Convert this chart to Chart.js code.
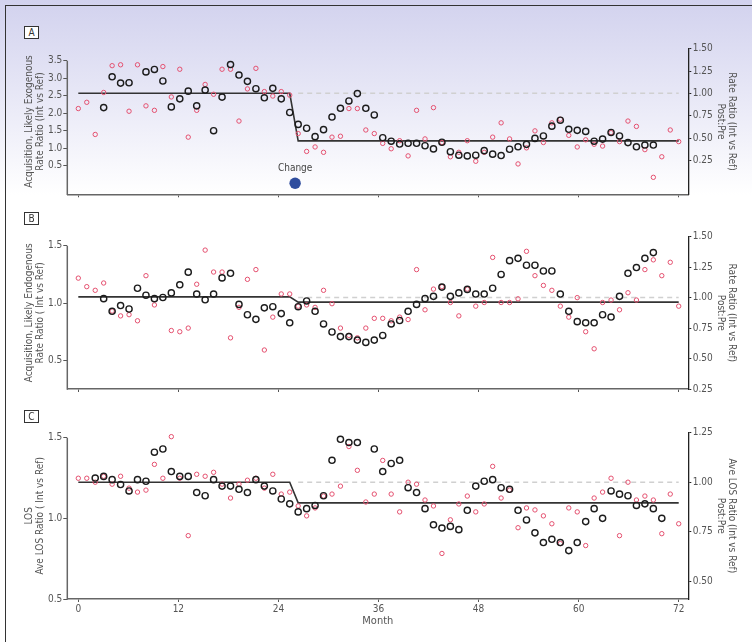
<!DOCTYPE html>
<html>
<head>
<meta charset="utf-8">
<title>Rate ratios before and after the change</title>
<script src="https://cdn.jsdelivr.net/npm/chart.js@4.4.1/dist/chart.umd.min.js"></script>
<style>
  html, body { margin: 0; padding: 0; }
  body {
    width: 752px; height: 642px; overflow: hidden; position: relative;
    background: linear-gradient(to bottom, #d2d2ee 0px, #e4e4f5 80px, #ffffff 195px);
    font-family: 'Liberation Sans Narrow', 'DejaVu Sans Condensed', sans-serif;
  }
  #frame {
    position: absolute; left: 5px; top: 5px; right: -10px; bottom: -10px;
    border-top: 1.5px solid #333; border-left: 1.5px solid #333;
  }
  canvas { position: absolute; left: 0; }
  .tag {
    position: absolute; left: 24px; width: 13px; height: 11px;
    border: 1px solid #333; background: #fff; color: #333;
    font-size: 10px; line-height: 11px; text-align: center;
  }
</style>
</head>
<body>
<div id="frame"></div>
<canvas id="chart-a" width="752" height="205" style="top:0"></canvas>
<canvas id="chart-b" width="752" height="195" style="top:205px"></canvas>
<canvas id="chart-c" width="752" height="242" style="top:400px"></canvas>
<div class="tag" style="top:26px">A</div>
<div class="tag" style="top:212px">B</div>
<div class="tag" style="top:410px">C</div>

<script>
// Monthly ratios, intervention vs reference
// =============================================================

const monthTicks = [0, 12, 24, 36, 48, 60, 72]
const postStart = 26            // first monthly point after the change
const changeMark = { month: 26, value: 0 }

// A - acquisition, likely exogenous
const aRatio = [null, null, null, 2.16, 3.04, 2.86, 2.87, 4.05, 3.18, 3.25, 2.92, 2.18, 2.41, 2.63, 2.21, 2.66, 1.50, 2.46,
  3.39, 3.09, 2.91, 2.70, 2.44, 2.71, 2.41, 2.02, 1.68, 1.57, 1.33, 1.53, 1.89, 2.14, 2.35, 2.56, 2.14, 1.95,
  1.30, 1.20, 1.12, 1.14, 1.14, 1.07, 0.98, 1.17, 0.90, 0.80, 0.78, 0.80, 0.93, 0.83, 0.79, 0.97, 1.04, 1.11,
  1.28, 1.35, 1.63, 1.80, 1.54, 1.51, 1.48, 1.20, 1.26, 1.45, 1.35, 1.16, 1.04, 1.09, 1.09, null, null, null]
const aPostPre = [0.83, 0.90, 0.54, 1.01, 1.31, 1.32, 0.80, 1.32, 0.86, 0.81, 1.30, 0.96, 1.27, 0.51, 0.81, 1.10, 0.99, 1.27,
  1.27, 0.69, 1.05, 1.28, 1.02, 0.97, 1.02, 0.98, 0.55, 0.35, 0.40, 0.34, 0.51, 0.52, 0.83, 0.83, 0.59, 0.55,
  0.44, 0.38, 0.47, 0.30, 0.81, 0.49, 0.84, 0.45, 0.29, 0.34, 0.47, 0.24, 0.34, 0.51, 0.67, 0.49, 0.21, 0.39,
  0.58, 0.45, 0.67, 0.71, 0.53, 0.40, 0.48, 0.43, 0.41, 0.56, 0.46, 0.69, 0.63, 0.37, 0.06, 0.29, 0.59, 0.46]
const aLevels = [2.57, 1.21]
const aLeftTicks = [0.5, 1.0, 1.5, 2.0, 2.5, 3.0, 3.5]
const aRightTicks = [0.25, 0.50, 0.75, 1.00, 1.25, 1.50]

// B - acquisition, likely endogenous
const bRatio = [null, null, null, 1.04, 0.93, 0.98, 0.95, 1.13, 1.07, 1.04, 1.05, 1.09, 1.16, 1.27, 1.08, 1.03, 1.08, 1.22,
  1.26, 0.99, 0.90, 0.86, 0.96, 0.97, 0.91, 0.83, 0.97, 1.02, 0.93, 0.82, 0.75, 0.71, 0.71, 0.68, 0.66, 0.68,
  0.72, 0.82, 0.85, 0.93, 0.99, 1.04, 1.06, 1.14, 1.06, 1.09, 1.12, 1.08, 1.08, 1.13, 1.25, 1.37, 1.39, 1.33,
  1.33, 1.28, 1.28, 1.08, 0.93, 0.84, 0.83, 0.83, 0.90, 0.88, 1.06, 1.26, 1.31, 1.39, 1.44, null, null, null]
const bPostPre = [1.16, 1.09, 1.06, 1.12, 0.89, 0.85, 0.86, 0.81, 1.18, 0.94, null, 0.73, 0.72, 0.75, 1.11, 1.39, 1.21, 1.21,
  0.67, 0.92, 1.15, 1.23, 0.57, 0.84, 1.03, 1.03, 0.93, 0.94, 0.92, 1.06, 0.95, 0.75, 0.69, 0.67, 0.75, 0.83,
  0.83, 0.81, 0.84, 0.82, 1.23, 0.90, 1.07, 1.09, 0.96, 0.85, 1.07, 0.93, 0.96, 1.33, 0.96, 0.96, 0.99, 1.38,
  1.18, 1.10, 1.06, 0.93, 0.84, 1.00, 0.72, 0.58, 0.96, 0.98, 0.90, 1.04, 0.98, 1.23, 1.31, 1.18, 1.29, 0.93]
const bLevels = [1.055, 1.01]
const bLeftTicks = [0.5, 1.0, 1.5]
const bRightTicks = [0.25, 0.50, 0.75, 1.00, 1.25, 1.50]

// C - length of stay
const cRatio = [null, null, 1.25, 1.26, 1.24, 1.21, 1.17, 1.24, 1.23, 1.41, 1.43, 1.29, 1.26, 1.26, 1.16, 1.14, 1.24, 1.20,
  1.20, 1.18, 1.16, 1.24, 1.20, 1.17, 1.12, 1.09, 1.04, 1.06, 1.08, 1.14, 1.36, 1.49, 1.47, 1.47, 1.60, 1.43,
  1.29, 1.34, 1.36, 1.19, 1.16, 1.06, 0.96, 0.94, 0.95, 0.93, 1.05, 1.20, 1.23, 1.24, 1.19, 1.18, 1.05, 0.99,
  0.91, 0.85, 0.87, 0.85, 0.80, 0.85, 0.98, 1.06, 1.00, 1.17, 1.15, 1.14, 1.08, 1.09, 1.06, 1.00, null, null]
const cPostPre = [1.02, 1.02, 1.00, 1.03, 0.99, 1.03, 0.97, 0.95, 0.96, 1.09, 1.02, 1.23, 1.02, 0.73, 1.04, 1.03, 1.05, 0.99,
  0.92, 0.99, 1.01, 1.02, 0.97, 1.04, 0.94, 0.95, 0.88, 0.83, 0.87, 0.93, 0.94, 0.98, 1.18, 1.06, 0.90, 0.94,
  1.11, 0.94, 0.85, 1.00, 0.99, 0.91, 0.88, 0.64, 0.81, 0.89, 0.93, 0.85, 0.89, 1.08, 0.92, 0.96, 0.77, 0.87,
  0.86, 0.83, 0.79, 0.69, 0.87, 0.85, 0.68, 0.92, 0.95, 1.02, 0.73, 1.00, 0.91, 0.93, 0.91, 0.74, 0.94, 0.79]
const cLevels = [1.224, 1.096]
const cLeftTicks = [0.5, 1.0, 1.5]
const cRightTicks = [0.50, 0.75, 1.00, 1.25]

const FONT = "'Liberation Sans Narrow', 'DejaVu Sans Condensed', sans-serif"
const GREY = '#555'

Chart.defaults.font.family = FONT
Chart.defaults.font.size = 10
Chart.defaults.color = GREY

// the 72 monthly points are spread over the whole 0-72 axis
const monthPos = i => i * 72 / 71
const toPoints = arr => arr.map((v, i) => ({ x: monthPos(i), y: v }))

// left axis only runs from its top tick down
const leftAxisLine = {
  id: 'leftAxisLine',
  afterDraw (chart, args, opts) {
    const { ctx, chartArea, scales: { y } } = chart
    const top = y.getPixelForValue(opts.from)
    ctx.save()
    ctx.strokeStyle = '#666'
    ctx.lineWidth = 1.5
    ctx.beginPath()
    ctx.moveTo(chartArea.left, top)
    ctx.lineTo(chartArea.left, chartArea.bottom + 0.75)
    ctx.stroke()
    ctx.restore()
  }
}

const changeLabel = {
  id: 'changeLabel',
  afterDatasetsDraw (chart) {
    const { ctx, scales: { x, y } } = chart
    ctx.save()
    ctx.font = '10px ' + FONT
    ctx.fillStyle = '#444'
    ctx.textAlign = 'center'
    ctx.textBaseline = 'middle'
    ctx.fillText('Change', x.getPixelForValue(changeMark.month), y.getPixelForValue(changeMark.value) - 15)
    ctx.restore()
  }
}

function panel (id, cfg) {
  const [pre, post] = cfg.levels
  const last = cfg.ratio.length - 1
  const step = [
    { x: monthPos(0), y: pre }, { x: monthPos(postStart - 1), y: pre },
    { x: monthPos(postStart), y: post }, { x: monthPos(last), y: post }
  ]
  const baseline = [{ x: monthPos(postStart), y: 1 }, { x: monthPos(last), y: 1 }]

  const datasets = [{
    data: toPoints(cfg.ratio),
    yAxisID: 'y',
    pointRadius: 3.1,
    pointBorderWidth: 1.4,
    pointBorderColor: '#1c1c1c',
    pointBackgroundColor: 'rgba(0,0,0,0)',
    clip: false
  }, {
    data: toPoints(cfg.postPre),
    yAxisID: 'y1',
    pointRadius: 2.2,
    pointBorderWidth: 1,
    pointBorderColor: '#e4506f',
    pointBackgroundColor: 'rgba(0,0,0,0)',
    clip: false
  }, {
    data: step,
    yAxisID: 'y',
    showLine: true,
    pointRadius: 0,
    borderColor: '#333',
    borderWidth: 1.6
  }, {
    data: baseline,
    yAxisID: 'y1',
    showLine: true,
    pointRadius: 0,
    borderColor: '#d0d0d0',
    borderWidth: 1.5,
    borderDash: [5, 4]
  }]

  const plugins = [leftAxisLine]
  if (cfg.change) {
    datasets.push({
      data: [{ x: changeMark.month, y: changeMark.value }],
      yAxisID: 'y',
      pointRadius: 5.7,
      pointBorderWidth: 0,
      pointBackgroundColor: '#2f4d9e',
      clip: false
    })
    plugins.push(changeLabel)
  }

  return new Chart(document.getElementById(id), {
    type: 'scatter',
    data: { datasets },
    plugins,
    options: {
      responsive: false,
      animation: false,
      devicePixelRatio: 1,
      events: [],
      layout: { padding: { top: cfg.top, left: 0, right: 0, bottom: 0 } },
      plugins: {
        legend: { display: false },
        tooltip: { enabled: false },
        leftAxisLine: { from: Math.max(...cfg.leftTicks) }
      },
      scales: {
        x: {
          type: 'linear',
          min: -1.32,
          max: 73.15,
          afterBuildTicks: s => { s.ticks = monthTicks.map(v => ({ value: v })) },
          afterFit: s => { s.height = cfg.xHeight },
          grid: { drawOnChartArea: false, tickLength: 3, color: GREY },
          border: { color: '#666', width: 1.5 },
          ticks: { display: !!cfg.months, padding: 1, autoSkip: false, maxRotation: 0 },
          title: {
            display: !!cfg.months,
            text: 'Month',
            font: { size: 11 },
            padding: { top: 0, bottom: 14.7 }
          }
        },
        y: {
          position: 'left',
          min: cfg.left[0],
          max: cfg.left[1],
          afterBuildTicks: s => { s.ticks = cfg.leftTicks.map(v => ({ value: v })) },
          afterFit: s => { s.width = 67.3 },
          grid: { drawOnChartArea: false, tickLength: 4, color: GREY },
          border: { display: false },
          ticks: { padding: 1, autoSkip: false, callback: v => v.toFixed(1) },
          title: {
            display: true,
            text: cfg.leftTitle,
            font: { size: 10, lineHeight: 1.12 },
            padding: { top: 23.7, bottom: 0 }
          }
        },
        y1: {
          position: 'right',
          min: cfg.right[0],
          max: cfg.right[1],
          afterBuildTicks: s => { s.ticks = cfg.rightTicks.map(v => ({ value: v })) },
          afterFit: s => { s.width = 63.7 },
          grid: { drawOnChartArea: false, tickLength: 3, color: '#222' },
          border: { color: '#222', width: 1.3 },
          ticks: { padding: 1.4, autoSkip: false, callback: v => v.toFixed(2) },
          title: {
            display: true,
            text: cfg.rightTitle,
            font: { size: 10, lineHeight: 1.15 },
            padding: { top: 14.5, bottom: 0 }
          }
        }
      }
    }
  })
}

panel('chart-a', {
  ratio: aRatio, postPre: aPostPre, levels: aLevels,
  leftTicks: aLeftTicks, rightTicks: aRightTicks,
  left: [-0.317, 3.843], right: [-0.13, 1.50],
  top: 48.7, xHeight: 10.7, change: true,
  leftTitle: ['Acquisition, Likely Exogenous', 'Rate Ratio (Int vs Ref)'],
  rightTitle: ['Rate Ratio (Int vs Ref)', 'Post:Pre']
})

panel('chart-b', {
  ratio: bRatio, postPre: bPostPre, levels: bLevels,
  leftTicks: bLeftTicks, rightTicks: bRightTicks,
  left: [0.255, 1.578], right: [0.25, 1.50],
  top: 31.7, xHeight: 11,
  leftTitle: ['Acquisition, Likely Endogenous', 'Rate Ratio ( Int vs Ref)'],
  rightTitle: ['Rate Ratio (Int vs Ref)', 'Post:Pre']
})

panel('chart-c', {
  ratio: cRatio, postPre: cPostPre, levels: cLevels,
  leftTicks: cLeftTicks, rightTicks: cRightTicks,
  left: [0.5, 1.531], right: [0.41, 1.25],
  top: 32.7, xHeight: 43, months: true,
  leftTitle: ['LOS', 'Ave LOS Ratio ( Int vs Ref)'],
  rightTitle: ['Ave LOS Ratio (Int vs Ref)', 'Post:Pre']
})
</script>
</body>
</html>
